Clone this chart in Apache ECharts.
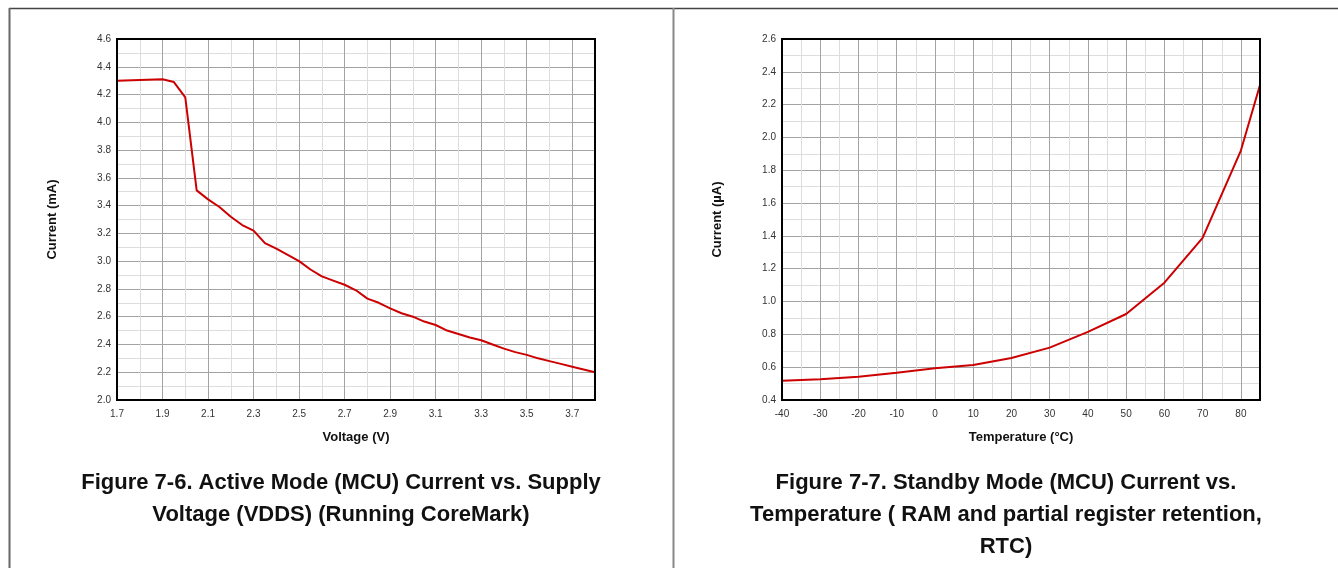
<!DOCTYPE html>
<html>
<head>
<meta charset="utf-8">
<script src="https://cdn.jsdelivr.net/npm/echarts@6/dist/echarts.min.js"></script>
<style>
  html, body { margin: 0; padding: 0; background: #fff; }
  #chart { width: 1338px; height: 568px; }
</style>
</head>
<body>
<div id="chart"></div>
<script>
// Figure 7-6: active-mode current vs. supply voltage
const voltageV = [1.7, 1.8, 1.9, 1.95, 2.0, 2.05, 2.1, 2.15, 2.2, 2.25, 2.3, 2.35, 2.4, 2.45, 2.5,
  2.55, 2.6, 2.65, 2.7, 2.75, 2.8, 2.85, 2.9, 2.95, 3.0, 3.05, 3.1, 3.15, 3.2, 3.25, 3.3,
  3.35, 3.4, 3.45, 3.5, 3.55, 3.6, 3.65, 3.7, 3.75, 3.8];
const activeCurrentMA = [4.30, 4.305, 4.31, 4.29, 4.18, 3.51, 3.445, 3.39, 3.32, 3.26, 3.22, 3.13, 3.09, 3.045, 3.00,
  2.94, 2.89, 2.86, 2.83, 2.79, 2.73, 2.70, 2.66, 2.625, 2.60, 2.565, 2.54, 2.50, 2.475, 2.45, 2.43,
  2.40, 2.37, 2.345, 2.325, 2.30, 2.28, 2.26, 2.24, 2.22, 2.20];

// Figure 7-7: standby-mode current vs. temperature
const temperatureC = [-40, -30, -20, -10, 0, 10, 20, 30, 40, 50, 60, 70, 80, 85];
const standbyCurrentUA = [0.518, 0.527, 0.542, 0.566, 0.593, 0.613, 0.656, 0.719, 0.815, 0.924, 1.115, 1.388, 1.92, 2.32];

const titleLeft = 'Figure 7-6. Active Mode (MCU) Current vs. Supply\nVoltage (VDDS) (Running CoreMark)';
const titleRight = 'Figure 7-7. Standby Mode (MCU) Current vs.\nTemperature ( RAM and partial register retention,\nRTC)';

const FONT = '"Liberation Sans", Arial, Helvetica, sans-serif';
const DARK_GRID = '#a3a3a3';
const LIGHT_GRID = '#dddddd';
const CURVE = '#cc0000';

const labelStyle = { fontFamily: FONT, fontSize: 10, color: '#333' };
const nameStyle = { fontFamily: FONT, fontSize: 13, fontWeight: 'bold', color: '#111' };

function pairs(xs, ys) { return xs.map((x, i) => [x, ys[i]]); }

const chart = echarts.init(document.getElementById('chart'), null, { renderer: 'canvas' });

chart.setOption({
  animation: false,
  backgroundColor: '#fff',
  grid: [
    { left: 117, top: 39, width: 478, height: 361, show: true, borderColor: '#000', borderWidth: 2, backgroundColor: 'transparent', z: 3 },
    { left: 782, top: 39, width: 478, height: 361, show: true, borderColor: '#000', borderWidth: 2, backgroundColor: 'transparent', z: 3 }
  ],
  xAxis: [
    { // voltage axis: labels and major lines every 0.2 V
      type: 'value', gridIndex: 0, min: 1.7, max: 3.8, interval: 0.2, z: 1,
      name: 'Voltage (V)', nameLocation: 'middle', nameGap: 31, nameTextStyle: nameStyle,
      axisLine: { show: false }, axisTick: { show: false },
      axisLabel: Object.assign({ margin: 9, showMaxLabel: false, formatter: v => v.toFixed(1) }, labelStyle),
      splitLine: { show: true, lineStyle: { color: DARK_GRID, width: 1 } }
    },
    { // voltage axis: fine lines every 0.1 V
      type: 'value', gridIndex: 0, min: 1.7, max: 3.8, interval: 0.1, z: 0,
      axisLine: { show: false }, axisTick: { show: false }, axisLabel: { show: false },
      splitLine: { show: true, lineStyle: { color: LIGHT_GRID, width: 1 } }
    },
    { // temperature axis
      type: 'value', gridIndex: 1, min: -40, max: 85, interval: 10,
      name: 'Temperature (°C)', nameLocation: 'middle', nameGap: 31, nameTextStyle: nameStyle,
      axisLine: { show: false }, axisTick: { show: false },
      axisLabel: Object.assign({ margin: 9, showMaxLabel: false }, labelStyle),
      splitLine: { show: true, lineStyle: { color: DARK_GRID, width: 1 } },
      minorTick: { show: false, splitNumber: 2 },
      minorSplitLine: { show: true, lineStyle: { color: LIGHT_GRID, width: 1 } }
    }
  ],
  yAxis: [
    {
      type: 'value', gridIndex: 0, min: 2.0, max: 4.6, interval: 0.2,
      name: 'Current (mA)', nameLocation: 'middle', nameGap: 58, nameTextStyle: nameStyle,
      axisLine: { show: false }, axisTick: { show: false },
      axisLabel: Object.assign({ margin: 6, formatter: v => v.toFixed(1) }, labelStyle),
      splitLine: { show: true, lineStyle: { color: DARK_GRID, width: 1 } },
      minorTick: { show: false, splitNumber: 2 },
      minorSplitLine: { show: true, lineStyle: { color: LIGHT_GRID, width: 1 } }
    },
    {
      type: 'value', gridIndex: 1, min: 0.4, max: 2.6, interval: 0.2,
      name: 'Current (µA)', nameLocation: 'middle', nameGap: 58, nameTextStyle: nameStyle,
      axisLine: { show: false }, axisTick: { show: false },
      axisLabel: Object.assign({ margin: 6, formatter: v => v.toFixed(1) }, labelStyle),
      splitLine: { show: true, lineStyle: { color: DARK_GRID, width: 1 } },
      minorTick: { show: false, splitNumber: 2 },
      minorSplitLine: { show: true, lineStyle: { color: LIGHT_GRID, width: 1 } }
    }
  ],
  series: [
    {
      name: 'Active current', type: 'line', xAxisIndex: 0, yAxisIndex: 0,
      data: pairs(voltageV, activeCurrentMA), showSymbol: false, z: 2,
      lineStyle: { color: CURVE, width: 2 }
    },
    {
      name: 'Standby current', type: 'line', xAxisIndex: 2, yAxisIndex: 1,
      data: pairs(temperatureC, standbyCurrentUA), showSymbol: false, z: 2,
      lineStyle: { color: CURVE, width: 2 }
    }
  ],
  graphic: [
    // table frame around the two figures
    { type: 'line', shape: { x1: 9, y1: 8.5, x2: 1338, y2: 8.5 }, style: { stroke: '#444', lineWidth: 1.5 }, z: 10 },
    { type: 'line', shape: { x1: 9.5, y1: 8, x2: 9.5, y2: 568 }, style: { stroke: '#666', lineWidth: 2 }, z: 10 },
    { type: 'line', shape: { x1: 673.5, y1: 8, x2: 673.5, y2: 568 }, style: { stroke: '#888', lineWidth: 2 }, z: 10 },
    // captions
    { type: 'text', x: 341, y: 467, z: 10,
      style: { text: titleLeft, textAlign: 'center', textVerticalAlign: 'top', font: 'bold 22px ' + FONT, lineHeight: 32, fill: '#111' } },
    { type: 'text', x: 1006, y: 467, z: 10,
      style: { text: titleRight, textAlign: 'center', textVerticalAlign: 'top', font: 'bold 22px ' + FONT, lineHeight: 32, fill: '#111' } }
  ]
});
</script>
</body>
</html>
